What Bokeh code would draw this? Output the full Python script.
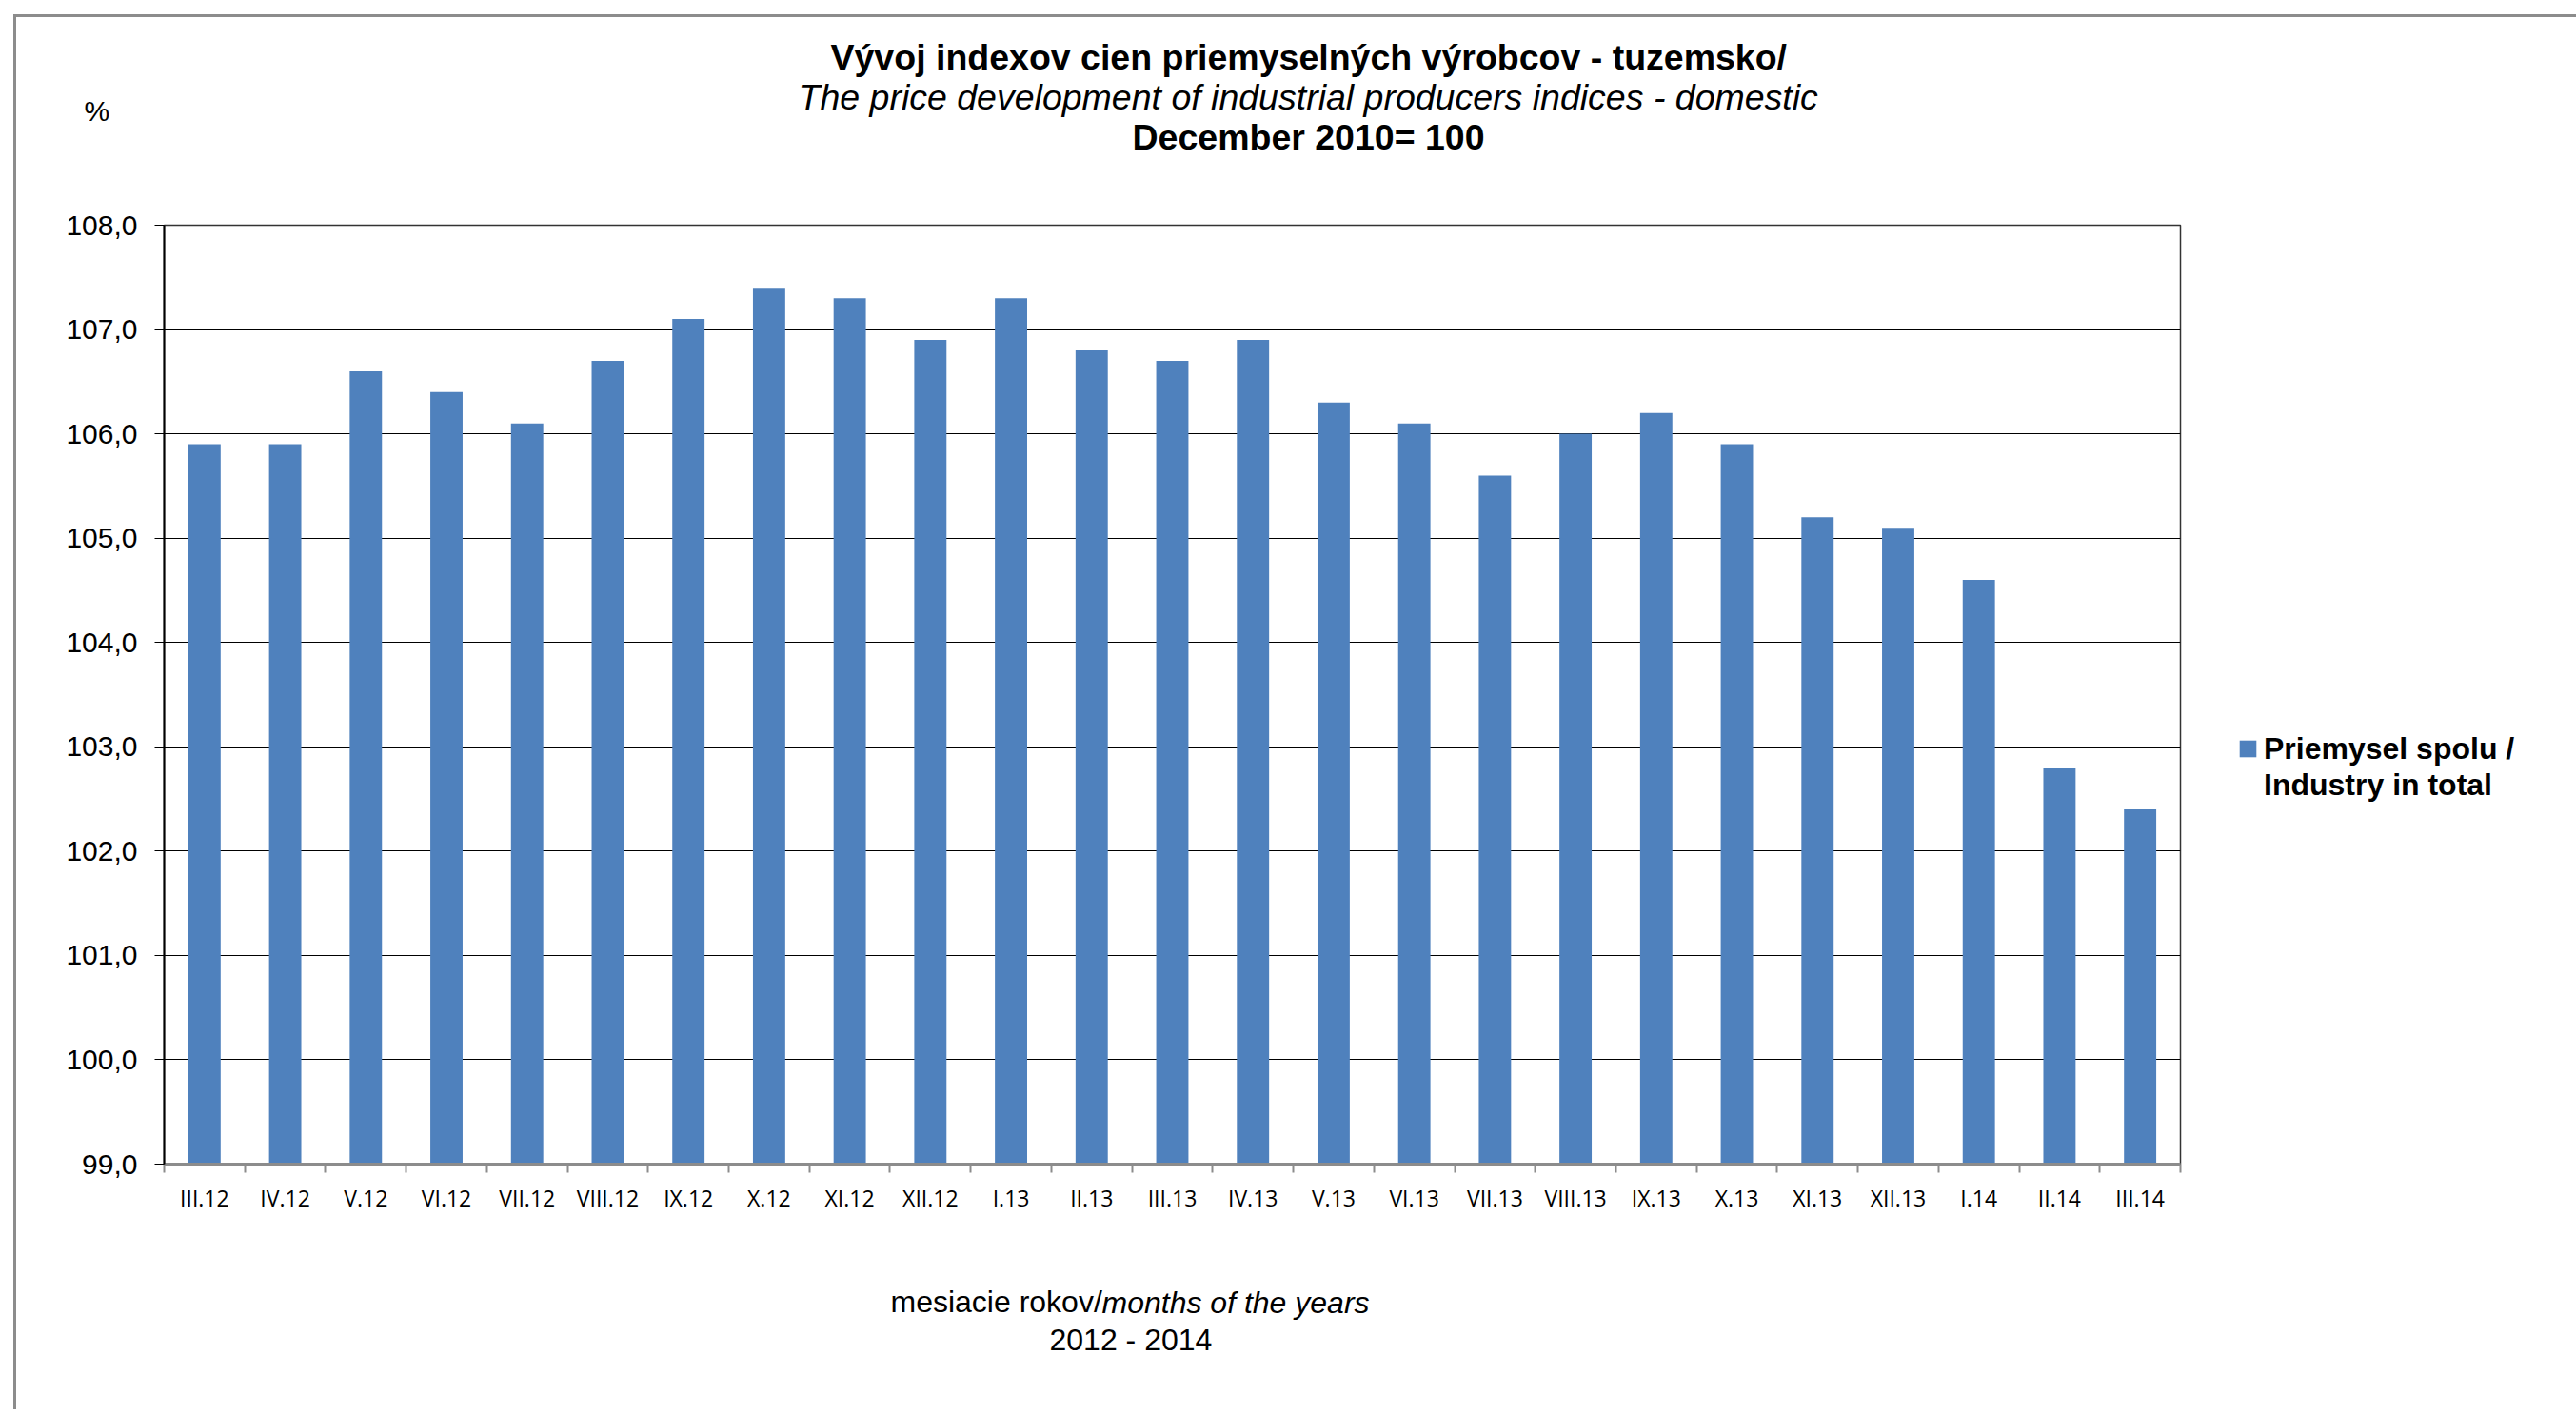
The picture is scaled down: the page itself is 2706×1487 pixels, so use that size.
from bokeh.plotting import figure
from bokeh.models import (Range1d, FixedTicker, Legend, LegendItem, Title,
                          ColumnDataSource)
from bokeh.embed import file_html
from bokeh.resources import INLINE

# ---- data ----
months = ["III.12", "IV.12", "V.12", "VI.12", "VII.12", "VIII.12", "IX.12",
          "X.12", "XI.12", "XII.12", "I.13", "II.13", "III.13", "IV.13",
          "V.13", "VI.13", "VII.13", "VIII.13", "IX.13", "X.13", "XI.13",
          "XII.13", "I.14", "II.14", "III.14"]
values = [105.9, 105.9, 106.6, 106.4, 106.1, 106.7, 107.1, 107.4, 107.3,
          106.9, 107.3, 106.8, 106.7, 106.9, 106.3, 106.1, 105.6, 106.0,
          106.2, 105.9, 105.2, 105.1, 104.6, 102.8, 102.4]
y_ticks = [99, 100, 101, 102, 103, 104, 105, 106, 107, 108]
y_tick_labels = ["99,0", "100,0", "101,0", "102,0", "103,0", "104,0",
                 "105,0", "106,0", "107,0", "108,0"]
series_name_1 = "Priemysel spolu /"
series_name_2 = "Industry in total"
title_1 = "Vývoj indexov cien priemyselných výrobcov - tuzemsko/"
title_2 = "The price development of industrial producers indices - domestic"
title_3 = "December 2010= 100"
x_title_a = "mesiacie rokov/"
x_title_b = "months of the years"
x_title_2 = "2012 - 2014"
y_unit = "%"

BAR = "#4F81BD"
FONT = "Liberation Sans"

n = len(months)
xs = list(range(n))
src = ColumnDataSource(dict(x=xs, top=values, name=months))

H = 1480
FL, FR, FT, FB = 172, 2290, 236, 1222
p = figure(frame_width=FR - FL, frame_height=FB - FT,
           output_backend="svg", toolbar_location=None,
           x_range=Range1d(-0.5, n - 0.5), y_range=Range1d(y_ticks[0], y_ticks[-1]),
           min_border_left=FL, min_border_right=0, min_border_top=FT,
           min_border_bottom=H - FB)
p.border_fill_color = None
p.background_fill_color = "white"
p.styles = {
    "background": "linear-gradient(#8c8c8c,#8c8c8c) 14px 15px / 3px 100% no-repeat, "
                  "linear-gradient(#8c8c8c,#8c8c8c) 14px 15px / 100% 3px no-repeat, white"
}
p.outline_line_color = "#333333"
p.outline_line_width = 1.5

r = p.vbar(x="x", top="top", bottom=y_ticks[0], width=0.4, source=src,
           fill_color=BAR, line_color=None)
r_blank = p.vbar(x=[], top=[], bottom=y_ticks[0], width=0.4,
                 fill_alpha=0, line_alpha=0)

# y axis
p.yaxis.ticker = FixedTicker(ticks=y_ticks)
p.yaxis.major_label_overrides = {t: l for t, l in zip(y_ticks, y_tick_labels)}
p.yaxis.major_label_text_font = FONT
p.yaxis.major_label_text_font_size = "30px"
p.yaxis.major_label_text_color = "black"
p.yaxis.major_label_standoff = 18
p.yaxis.major_tick_out = 10
p.yaxis.major_tick_in = 0
p.yaxis.major_tick_line_color = "black"
p.yaxis.minor_tick_line_color = None
p.yaxis.axis_line_color = "black"
p.yaxis.axis_line_width = 2

# x axis: labels at centers, tick marks at category boundaries
p.xaxis.ticker = FixedTicker(ticks=xs, minor_ticks=[i - 0.5 for i in range(n + 1)])
p.xaxis.major_label_overrides = {i: m for i, m in enumerate(months)}
p.xaxis.major_label_text_font = "Open Sans"
p.xaxis.major_label_text_font_size = "23px"
p.xaxis.major_label_text_color = "black"
p.xaxis.major_tick_line_color = None
p.xaxis.major_tick_out = 0
p.xaxis.major_tick_in = 0
p.xaxis.major_label_standoff = 10
p.xaxis.minor_tick_line_color = "#8c8c8c"
p.xaxis.minor_tick_line_width = 2
p.xaxis.minor_tick_out = 9
p.xaxis.minor_tick_in = 0
p.xaxis.axis_line_color = "#8c8c8c"
p.xaxis.axis_line_width = 3

p.xgrid.grid_line_color = None
p.ygrid.ticker = FixedTicker(ticks=y_ticks)
p.ygrid.grid_line_color = "black"
p.ygrid.grid_line_width = 1.2


def ttl(text, offset, size, style="normal", standoff=-2, valign="middle"):
    return Title(text=text, align="left", offset=offset, vertical_align=valign,
                 text_font=FONT, text_font_size=size, text_font_style=style,
                 text_color="black", standoff=standoff)

# ---- titles above (first added = closest to the frame) ----
p.add_layout(Title(text=" ", text_font_size="1px", standoff=69), "above")
p.add_layout(ttl(title_3, 1017, "37.5px", "bold"), "above")
p.add_layout(ttl(y_unit, -84, "30px", "normal", standoff=-46, valign="top"), "above")
p.add_layout(ttl(title_2, 666, "37.5px", "italic"), "above")
p.add_layout(ttl(title_1, 700, "37.5px", "bold"), "above")

# ---- axis title below ----
p.add_layout(Title(text=" ", text_font_size="1px", standoff=87), "below")
p.add_layout(ttl(x_title_a, 763, "32px", "normal", standoff=-37), "below")
p.add_layout(ttl(x_title_b, 985, "32px", "italic", standoff=-37), "below")
p.add_layout(ttl(x_title_2, 930, "32px", "normal", standoff=38), "below")

# ---- legend on the right ----
legend = Legend(items=[LegendItem(label=series_name_1, renderers=[r]),
                       LegendItem(label=series_name_2, renderers=[r_blank])],
                location=(60, 379), orientation="vertical",
                padding=0, margin=0, spacing=0, border_line_color=None,
                background_fill_color=None, background_fill_alpha=0,
                glyph_width=22, glyph_height=22, label_standoff=6,
                label_text_font=FONT, label_text_font_size="32px",
                label_text_font_style="bold", label_text_color="black",
                label_height=38)
p.add_layout(legend, "right")

open("out.html", "w").write(file_html(p, INLINE))
